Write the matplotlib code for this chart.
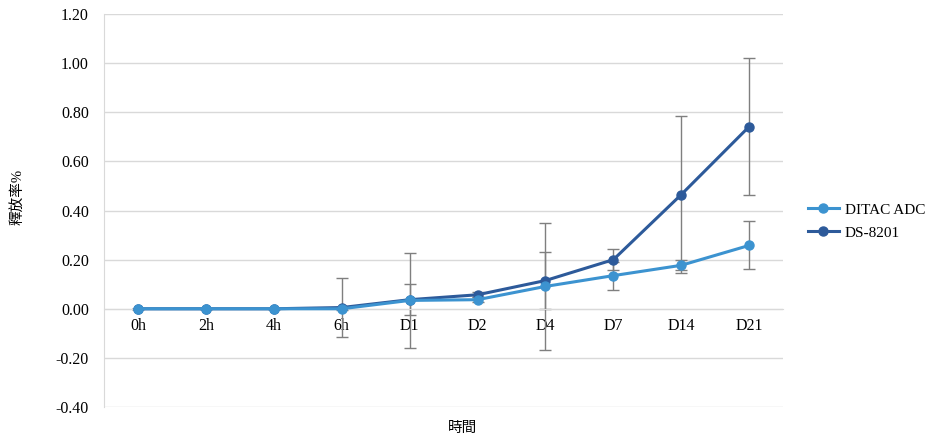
import matplotlib
matplotlib.use("Agg")
import matplotlib.pyplot as plt
from matplotlib.ticker import FormatStrFormatter

categories = ['0h', '2h', '4h', '6h', 'D1', 'D2', 'D4', 'D7', 'D14', 'D21']
ditac = [0.0, 0.0, 0.0, 0.0, 0.034, 0.037, 0.091, 0.135, 0.177, 0.258]
ditac_err = [0.0, 0.0, 0.0, 0.005, 0.193, 0.01, 0.259, 0.057, 0.02, 0.098]
ds8201 = [0.0, 0.0, 0.0, 0.005, 0.037, 0.057, 0.115, 0.200, 0.465, 0.742]
ds8201_err = [0.0, 0.0, 0.0, 0.121, 0.062, 0.01, 0.115, 0.044, 0.320, 0.279]

c_ditac = '#3C93D0'
c_ds = '#2D5A9A'
grid_c = '#D9D9D9'

plt.rcParams['font.family'] = ['Liberation Serif', 'Noto Sans CJK TC']

fig = plt.figure(figsize=(9.29, 4.4), dpi=100)
ax = fig.add_axes([0.112, 0.075, 0.731, 0.893])

x = list(range(len(categories)))

ax.errorbar(x, ditac, yerr=ditac_err, fmt='none', ecolor='#7F7F7F',
            elinewidth=1, capsize=4, capthick=1, zorder=2)
ax.errorbar(x, ds8201, yerr=ds8201_err, fmt='none', ecolor='#7F7F7F',
            elinewidth=1, capsize=4, capthick=1, zorder=2)
ax.plot(x, ds8201, color=c_ds, lw=2.2, marker='o', ms=6.5, label='DS-8201', zorder=3)
ax.plot(x, ditac, color=c_ditac, lw=2.2, marker='o', ms=6.5, label='DITAC ADC', zorder=4)

ax.set_xlim(-0.5, len(categories) - 0.5)
ax.set_ylim(-0.4, 1.2)
ax.set_yticks([-0.4, -0.2, 0.0, 0.2, 0.4, 0.6, 0.8, 1.0, 1.2])
ax.yaxis.set_major_formatter(FormatStrFormatter('%.2f'))
ax.set_xticks(x)
ax.set_xticklabels(categories)

ax.grid(axis='y', color=grid_c, lw=1)
ax.set_axisbelow(True)
for s in ['top', 'right']:
    ax.spines[s].set_visible(False)
ax.spines['left'].set_color(grid_c)
ax.spines['bottom'].set_position(('data', 0))
ax.spines['bottom'].set_color(grid_c)
ax.tick_params(axis='both', length=0, labelsize=11.5, colors='black')
ax.tick_params(axis='x', pad=7)
ax.tick_params(axis='y', pad=11)

fig.text(0.019, 0.552, '釋放率%', rotation=90, ha='center', va='center', fontsize=10.5)
fig.text(0.498, 0.027, '時間', ha='center', va='center', fontsize=10.5)

h, l = ax.get_legend_handles_labels()
fig.legend(h[::-1], l[::-1], loc='center left', bbox_to_anchor=(0.8698, 0.497),
           frameon=False, fontsize=11, handlelength=2.0, labelspacing=0.6,
           handletextpad=0.4, borderpad=0, borderaxespad=0)

fig.savefig('out.png', dpi=100)
